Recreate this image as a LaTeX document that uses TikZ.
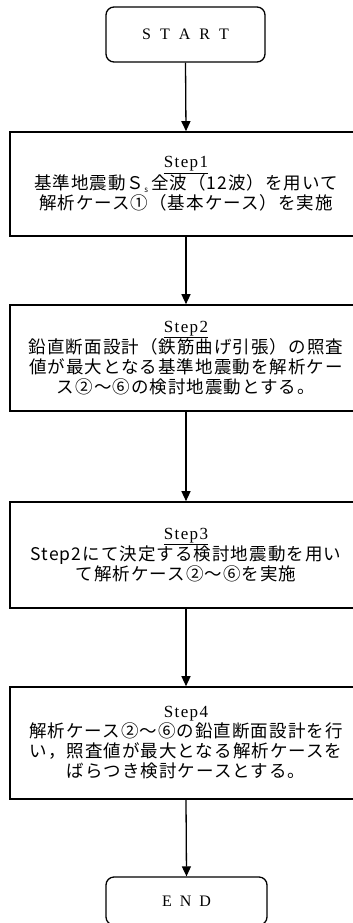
\documentclass[tikz,border=0pt]{standalone}
\usepackage{fontspec}
\setmainfont{Liberation Serif}
\newfontfamily\cjk[LetterSpace=6]{Noto Sans CJK JP}
\newfontfamily\stepfont[LetterSpace=8]{Liberation Serif}
\usetikzlibrary{arrows.meta}
\tikzset{
  term/.style={draw, line width=1.3pt, rounded corners=8pt, inner sep=0pt,
    font=\fontsize{16}{18}\selectfont},
  stepbox/.style={draw, line width=1.6pt, minimum width=352pt, inner sep=0pt,
    align=center, font=\cjk\fontsize{17.5}{20}\selectfont},
  arr/.style={line width=1.3pt, -{Triangle[width=9pt,length=10pt]}},
}
\newcommand{\steplabel}[1]{{\stepfont\fontsize{17}{20}\selectfont #1}}
\begin{document}
\begin{tikzpicture}[x=1pt,y=-1pt]
\useasboundingbox (0,0) rectangle (353,923);
\clip (0,0) rectangle (353,923);
\fill[white] (0,0) rectangle (353,923);

\node[term, minimum width=159pt, minimum height=55pt] (start) at (185.5,34.5)
  {S\hspace{9pt}T\hspace{9pt}A\hspace{9pt}R\hspace{9pt}T};

\node[stepbox, minimum height=104pt] (s1) at (186,184)
  {\steplabel{\underline{Step1}}\\
   基準地震動Ｓ\raisebox{-3pt}{\fontsize{8}{8}\selectfont s}\,全波（12波）を用いて\\
   解析ケース①（基本ケース）を実施};

\node[stepbox, minimum height=106pt] (s2) at (186,358)
  {\steplabel{\underline{Step2}}\\
   鉛直断面設計（鉄筋曲げ引張）の照査\\
   値が最大となる基準地震動を解析ケー\\
   ス②～⑥の検討地震動とする。};

\node[stepbox, minimum height=106pt] (s3) at (186,555)
  {\steplabel{\underline{Step3}}\\
   Step2にて決定する検討地震動を用い\\
   て解析ケース②～⑥を実施};

\node[stepbox, minimum height=112pt] (s4) at (186,743)
  {\steplabel{Step4}\\
   解析ケース②～⑥の鉛直断面設計を行\\
   い，照査値が最大となる解析ケースを\\
   ばらつき検討ケースとする。};

\node[term, minimum width=161pt, minimum height=48pt] (end) at (186.5,901)
  {E\hspace{8pt}N\hspace{8pt}D};

\draw[arr] (start.south) -- (s1.north);
\draw[arr] (s1.south) -- (s2.north);
\draw[arr] (s2.south) -- (s3.north);
\draw[arr] (s3.south) -- (s4.north);
\draw[arr] (s4.south) -- (end.north);
\end{tikzpicture}
\end{document}
